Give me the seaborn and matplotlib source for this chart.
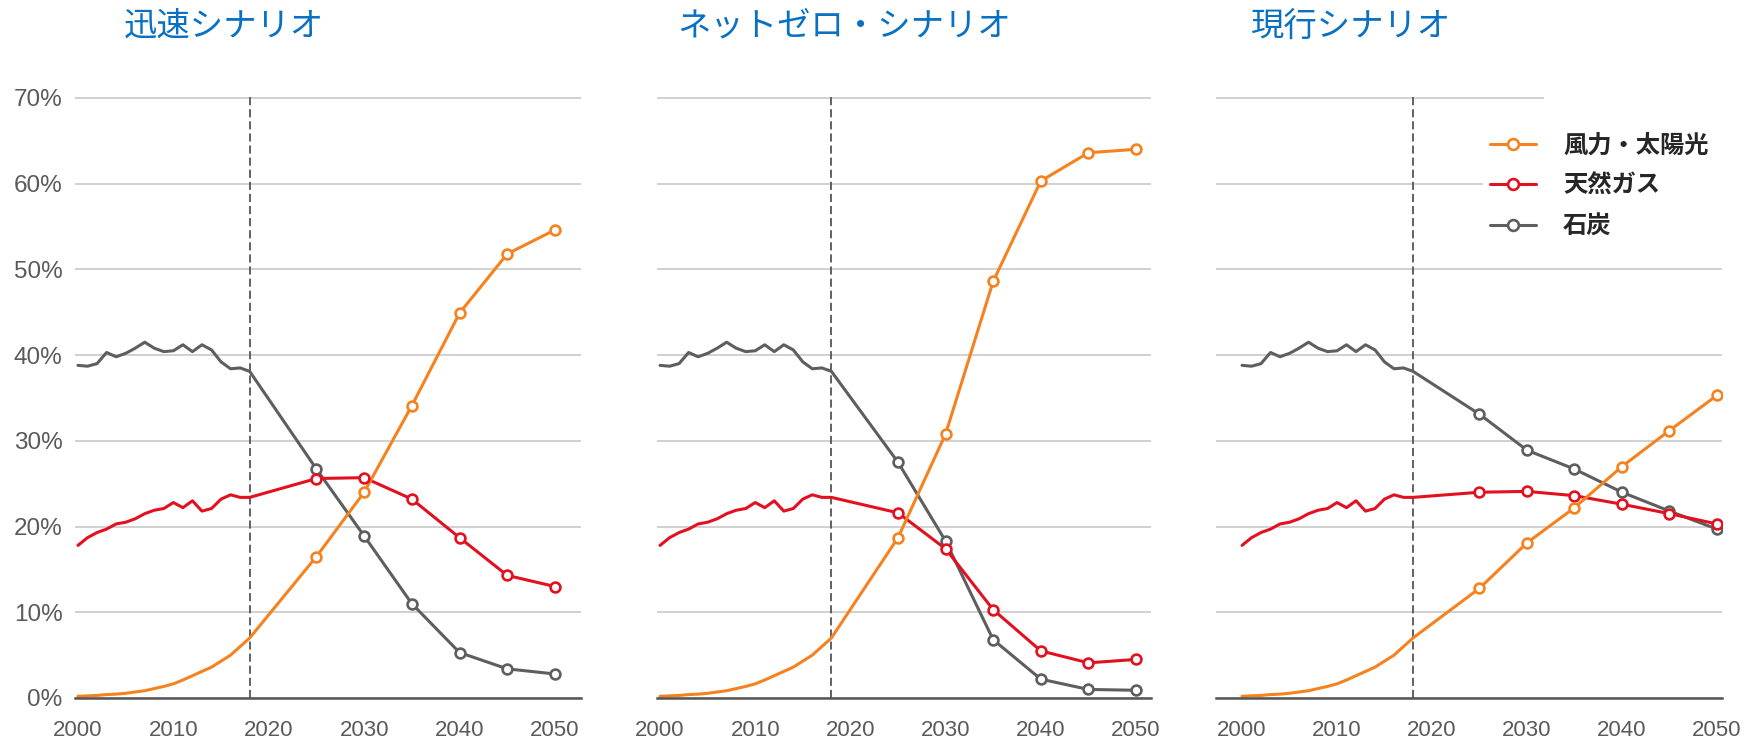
import numpy as np
import pandas as pd
import seaborn as sns
import matplotlib.pyplot as plt
from matplotlib.lines import Line2D
from matplotlib.patches import Rectangle
from matplotlib.font_manager import FontProperties

# historical shares (%), common to all scenarios
hist_years = list(range(2000, 2019))
coal_hist = [38.8, 38.7, 39.0, 40.3, 39.8, 40.2, 40.8, 41.5, 40.8, 40.4,
             40.5, 41.2, 40.4, 41.2, 40.6, 39.2, 38.4, 38.5, 38.1]
gas_hist = [17.8, 18.7, 19.3, 19.7, 20.3, 20.5, 20.9, 21.5, 21.9, 22.1,
            22.8, 22.2, 23.0, 21.8, 22.1, 23.2, 23.7, 23.4, 23.4]
wind_hist = [0.2, 0.25, 0.3, 0.4, 0.45, 0.55, 0.7, 0.85, 1.1, 1.35,
             1.65, 2.1, 2.6, 3.1, 3.6, 4.3, 5.0, 6.0, 7.0]

# scenario projections (%)
proj_years = [2025, 2030, 2035, 2040, 2045, 2050]
rapid_wind = [16.5, 24.0, 34.1, 44.9, 51.8, 54.6]
rapid_gas = [25.6, 25.7, 23.2, 18.7, 14.3, 13.0]
rapid_coal = [26.7, 18.9, 11.0, 5.3, 3.4, 2.8]
netzero_wind = [18.7, 30.8, 48.6, 60.3, 63.6, 64.0]
netzero_gas = [21.6, 17.4, 10.3, 5.5, 4.1, 4.5]
netzero_coal = [27.5, 18.3, 6.8, 2.2, 1.0, 0.9]
current_wind = [12.8, 18.1, 22.2, 27.0, 31.2, 35.3]
current_gas = [24.0, 24.1, 23.6, 22.6, 21.5, 20.3]
current_coal = [33.1, 28.9, 26.7, 24.0, 21.8, 19.7]

scenarios = ['迅速シナリオ', 'ネットゼロ・シナリオ', '現行シナリオ']
sources = ['風力・太陽光', '天然ガス', '石炭']
colors = {'風力・太陽光': '#f5821f', '天然ガス': '#e3101f', '石炭': '#5e5e5e'}

hist = {'風力・太陽光': wind_hist, '天然ガス': gas_hist, '石炭': coal_hist}
proj = {
    '迅速シナリオ': {'風力・太陽光': rapid_wind, '天然ガス': rapid_gas, '石炭': rapid_coal},
    'ネットゼロ・シナリオ': {'風力・太陽光': netzero_wind, '天然ガス': netzero_gas, '石炭': netzero_coal},
    '現行シナリオ': {'風力・太陽光': current_wind, '天然ガス': current_gas, '石炭': current_coal},
}

rows = []
for sc in scenarios:
    for src in sources:
        for y, v in zip(hist_years, hist[src]):
            rows.append((sc, src, y, v, 'hist'))
        for y, v in zip(proj_years, proj[sc][src]):
            rows.append((sc, src, y, v, 'proj'))
df = pd.DataFrame(rows, columns=['scenario', 'source', 'year', 'share', 'kind'])

sns.set_style('white')
plt.rcParams['font.family'] = ['Liberation Sans', 'Noto Sans CJK JP', 'DejaVu Sans']

W, H = 1754, 741
fig = plt.figure(figsize=(W / 100, H / 100), dpi=100)

# axes placement in pixels: (left, right), and x limits
panels = [(75, 581, 1999.69, 2052.73),
          (657, 1151, 1999.68, 2051.58),
          (1216, 1722, 1997.26, 2050.53)]
title_x = [124, 677, 1251]
ax_top, ax_bot = 97, 698

for i, sc in enumerate(scenarios):
    l, r, x0, x1 = panels[i]
    ax = fig.add_axes([l / W, (H - ax_bot) / H, (r - l) / W, (ax_bot - ax_top) / H])
    sub = df[df['scenario'] == sc]
    for src in ['石炭', '天然ガス', '風力・太陽光']:
        s = sub[sub['source'] == src]
        sns.lineplot(data=s, x='year', y='share', color=colors[src], linewidth=2.2,
                     ax=ax, zorder=2)
        p = s[s['kind'] == 'proj']
        sns.scatterplot(data=p, x='year', y='share', marker='o', s=50, color='white',
                        edgecolor=colors[src], linewidth=1.9, ax=ax, zorder=3)
    ax.axvline(2018, color='#555555', linewidth=1.3, linestyle=(0, (4.5, 2.2)), zorder=1.5)

    ax.set_xlim(x0, x1)
    ax.set_ylim(0, 70.1)
    ax.set_xticks([2000, 2010, 2020, 2030, 2040, 2050])
    ax.set_yticks(range(0, 71, 10))
    ax.set_yticklabels([f'{v}%' for v in range(0, 71, 10)])
    ax.yaxis.grid(True, color='#c8c8c8', linewidth=1.2)
    ax.set_axisbelow(True)
    ax.set_xlabel('')
    ax.set_ylabel('')
    for sp in ['top', 'left', 'right']:
        ax.spines[sp].set_visible(False)
    ax.spines['bottom'].set_color('#555555')
    ax.spines['bottom'].set_linewidth(1.8)
    ax.tick_params(axis='x', length=0, pad=16, labelsize=16, labelcolor='#5a5a5a')
    ax.tick_params(axis='y', length=0, pad=9, labelsize=17.5, labelcolor='#5a5a5a')
    if i > 0:
        ax.set_yticklabels([])

    fig.text(title_x[i] / W, 1 - 26 / H, sc, fontsize=24, color='#0a70c2',
             family='Noto Sans CJK JP', va='center', ha='left')

    if i == 2:
        # white area behind the legend hides the grid there
        for bx, by, bw, bh in [(1483, 120, 271, 115), (1544, 90, 210, 30)]:
            ax.add_patch(Rectangle((bx / W, 1 - (by + bh) / H), bw / W, bh / H,
                                   transform=fig.transFigure, facecolor='white',
                                   edgecolor='none', zorder=1.2, clip_on=False))
        handles = [Line2D([], [], color=colors[s], linewidth=2.2, marker='o', markersize=7.8,
                          markerfacecolor='white', markeredgecolor=colors[s], markeredgewidth=1.9)
                   for s in sources]
        leg = ax.legend(handles, sources, loc='upper left',
                        bbox_to_anchor=(1483 / W, 1 - 126 / H), bbox_transform=fig.transFigure,
                        prop=FontProperties(family='Noto Sans CJK JP', weight='bold', size=17.5),
                        frameon=False, borderaxespad=0, borderpad=0.3, handlelength=1.9,
                        handletextpad=1.1, labelspacing=0.68)
        leg.set_zorder(5)

fig.savefig('out.png', dpi=100)
